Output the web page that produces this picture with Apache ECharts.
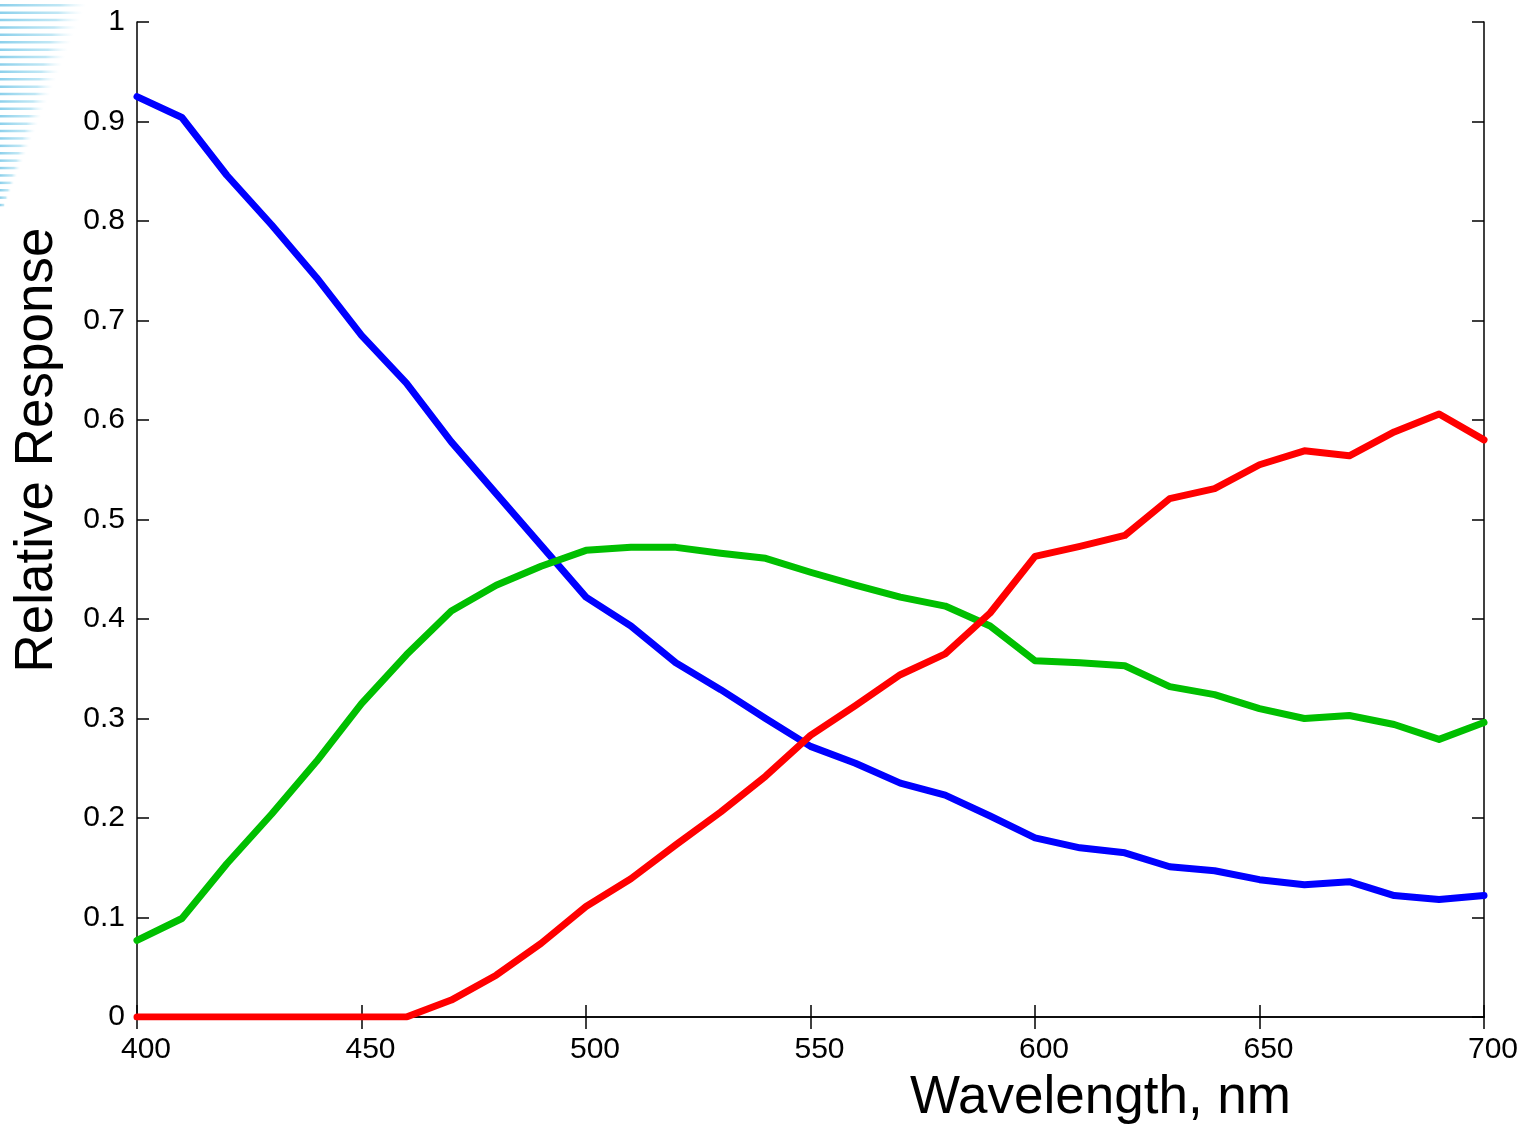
<!DOCTYPE html>
<html lang="en">
<head>
    <meta charset="UTF-8">
    <title>Relative Response</title>
    <script src="https://cdn.jsdelivr.net/npm/echarts@6/dist/echarts.min.js"></script>
</head>
<body style="height: 100%; margin: 0">
<div id="chart" style="width: 1529px; height: 1133px"></div>
<script>
    // wavelengths, nm
    let wavelengths = [400, 410, 420, 430, 440, 450, 460, 470, 480, 490, 500, 510, 520, 530, 540, 550,
        560, 570, 580, 590, 600, 610, 620, 630, 640, 650, 660, 670, 680, 690, 700];

    let blue = [0.925, 0.904, 0.846, 0.796, 0.743, 0.685, 0.637, 0.578, 0.526, 0.474, 0.422, 0.393,
        0.356, 0.329, 0.300, 0.272, 0.255, 0.235, 0.223, 0.202, 0.180, 0.170, 0.165, 0.151, 0.147,
        0.138, 0.133, 0.136, 0.122, 0.118, 0.122];
    let green = [0.077, 0.099, 0.154, 0.204, 0.257, 0.315, 0.364, 0.408, 0.434, 0.453, 0.469, 0.472,
        0.472, 0.466, 0.461, 0.447, 0.434, 0.422, 0.413, 0.393, 0.358, 0.356, 0.353, 0.332, 0.324,
        0.310, 0.300, 0.303, 0.294, 0.279, 0.296];
    let red = [0, 0, 0, 0, 0, 0, 0, 0.017, 0.042, 0.074, 0.111, 0.139, 0.173, 0.206, 0.242, 0.283,
        0.313, 0.344, 0.365, 0.406, 0.463, 0.473, 0.484, 0.521, 0.531, 0.555, 0.569, 0.564, 0.588,
        0.606, 0.580];

    function pairs(ys) {
        let out = [];
        for (let i = 0; i < wavelengths.length; i++) out.push([wavelengths[i], ys[i]]);
        return out;
    }

    function line(name, ys, color) {
        return {
            name: name, type: 'line', data: pairs(ys), showSymbol: false, silent: true,
            lineStyle: {color: color, width: 7, cap: 'round', join: 'round'}
        };
    }

    // faint striped decoration in the top-left corner
    let stripes = [];
    for (let i = 0; i < 28; i++) {
        let w = 86 - i * 3;
        stripes.push({
            type: 'rect', silent: true,
            shape: {x: 0, y: 4 + i * 7.4, width: w, height: 2.5},
            style: {
                fill: new echarts.graphic.LinearGradient(0, 0, 1, 0, [
                    {offset: 0, color: 'rgba(120,200,232,0.85)'},
                    {offset: 0.7, color: 'rgba(150,215,238,0.6)'},
                    {offset: 1, color: 'rgba(200,235,248,0)'}
                ])
            }
        });
    }

    let axisFont = {fontFamily: 'Liberation Sans, Arial, sans-serif', fontSize: 30, color: '#000'};
    let tickStyle = {show: true, inside: true, length: 12, lineStyle: {color: '#000', width: 1.5}};

    let myChart = echarts.init(document.getElementById('chart'));
    let option = {
        animation: false,
        backgroundColor: '#fff',
        grid: {left: 137, right: 45, top: 22, bottom: 116},
        xAxis: [{
            type: 'value', min: 400, max: 700, interval: 50, position: 'bottom',
            axisLine: {show: true, onZero: false, lineStyle: {color: '#000', width: 1.5}},
            axisTick: tickStyle,
            axisLabel: Object.assign({margin: 18, padding: [0, 0, 0, 18]}, axisFont),
            splitLine: {show: false}
        }, {
            type: 'value', min: 400, max: 700, interval: 50, position: 'top',
            axisLine: {show: true, lineStyle: {color: '#000', width: 1.5}},
            axisTick: tickStyle, axisLabel: {show: false}, splitLine: {show: false}
        }],
        yAxis: [{
            type: 'value', min: 0, max: 1, interval: 0.1, position: 'left',
            axisLine: {show: true, onZero: false, lineStyle: {color: '#000', width: 1.5}},
            axisTick: tickStyle,
            axisLabel: Object.assign({margin: 12, formatter: function (v) {
                return v === 0 || v === 1 ? String(v) : v.toFixed(1);
            }}, axisFont),
            splitLine: {show: false}
        }, {
            type: 'value', min: 0, max: 1, interval: 0.1, position: 'right',
            axisLine: {show: true, lineStyle: {color: '#000', width: 1.5}},
            axisTick: tickStyle, axisLabel: {show: false}, splitLine: {show: false}
        }],
        graphic: stripes.concat([
            {
                type: 'text', left: 910, top: 1072,
                style: {text: 'Wavelength, nm', fontFamily: 'Liberation Sans, Arial, sans-serif',
                    fontSize: 53, fill: '#000'}
            },
            {
                type: 'text', x: 11, y: 450, rotation: Math.PI / 2,
                style: {text: 'Relative Response', fontFamily: 'Liberation Sans, Arial, sans-serif',
                    fontSize: 53, fill: '#000', align: 'center', verticalAlign: 'top'}
            }
        ]),
        series: [
            line('Blue', blue, '#0000ff'),
            line('Green', green, '#00bf00'),
            line('Red', red, '#ff0000')
        ]
    };
    myChart.setOption(option);
</script>
</body>
</html>
